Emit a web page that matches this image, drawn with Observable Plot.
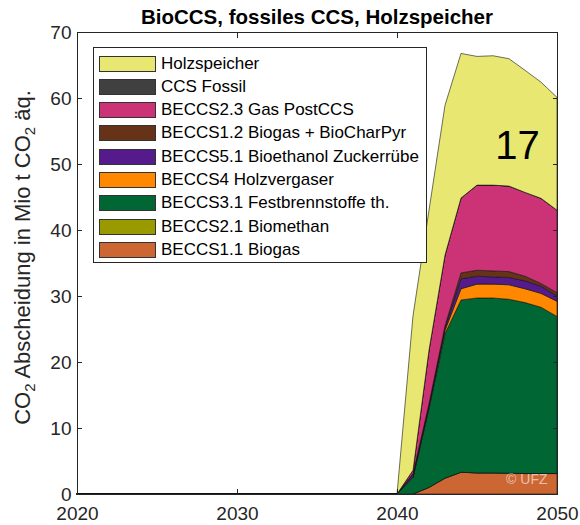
<!DOCTYPE html>
<html><head><meta charset="utf-8">
<script src="https://cdn.jsdelivr.net/npm/d3@7"></script>
<script src="https://cdn.jsdelivr.net/npm/@observablehq/plot@0.6"></script>
<style>
body{margin:0;background:#fff;font-family:"Liberation Sans",Arial,sans-serif;}
#wrap{position:relative;width:580px;height:525px;}
#title{position:absolute;left:77px;width:480px;top:5px;text-align:center;font-weight:bold;font-size:20.5px;line-height:24px;color:#000;z-index:2;}
#legend{position:absolute;left:93px;top:47px;width:334px;height:216px;border:1px solid #262626;background:#fff;box-sizing:border-box;z-index:2;}
.row{position:absolute;left:5px;height:23px;display:flex;align-items:center;font-size:17px;color:#000;white-space:nowrap;}
.sw{width:57px;height:16px;border:1px solid #333;box-sizing:border-box;margin-right:5px;}
</style>
</head><body>
<div id="wrap">
<div id="title">BioCCS, fossiles CCS, Holzspeicher</div>
<div id="legend"></div>
</div>
<script>
// Years
const years = [2020, 2025, 2030, 2035, 2040, 2041, 2042, 2043, 2044, 2045, 2046, 2047, 2048, 2049, 2050];
// Series (stack order bottom -> top)
const seriesNames = [
  "BECCS1.1 Biogas",
  "BECCS2.1 Biomethan",
  "BECCS3.1 Festbrennstoffe th.",
  "BECCS4 Holzvergaser",
  "BECCS5.1 Bioethanol Zuckerrübe",
  "BECCS1.2 Biogas + BioCharPyr",
  "BECCS2.3 Gas PostCCS",
  "CCS Fossil",
  "Holzspeicher"
];
const seriesColors = ["#CC6633", "#999900", "#006633", "#FF8800", "#551A8B", "#663319", "#CC3377", "#404040", "#E8E771"];
// Values in Mio t CO2 eq.
const beccs11Biogas      = [0, 0, 0, 0, 0, 0.0, 1.0, 2.4, 3.3, 3.2, 3.2, 3.15, 3.1, 3.1, 3.1];
const beccs21Biomethan   = [0, 0, 0, 0, 0, 0.0, 0.0, 0.0, 0.0, 0.0, 0.0, 0.0, 0.0, 0.0, 0.0];
const beccs31Festbrenn   = [0, 0, 0, 0, 0, 2.5, 12.0, 21.9, 26.1, 26.5, 26.5, 26.35, 25.9, 25.2, 23.8];
const beccs4Holzverg     = [0, 0, 0, 0, 0, 0.1, 0.2, 0.5, 1.7, 2.1, 2.1, 2.2, 2.1, 2.1, 2.3];
const beccs51Bioethanol  = [0, 0, 0, 0, 0, 0.4, 0.3, 0.4, 1.5, 1.2, 1.1, 1.1, 1.2, 1.1, 0.8];
const beccs12BioChar     = [0, 0, 0, 0, 0, 0.1, 0.2, 0.3, 0.9, 0.9, 0.9, 0.9, 0.7, 0.4, 0.5];
const beccs23GasPost     = [0, 0, 0, 0, 0, 0.5, 8.1, 10.7, 11.35, 12.9, 13.0, 12.95, 12.7, 12.9, 12.5];
const ccsFossil          = [0, 0, 0, 0, 0, 0.0, 0.0, 0.0, 0.0, 0.0, 0.0, 0.0, 0.0, 0.0, 0.0];
const holzspeicher       = [0, 0, 0, 0, 0, 23.4, 21.2, 22.7, 21.9, 19.5, 19.6, 19.3, 18.5, 17.6, 17.1];
// Axis ticks
const xTicks = [2020, 2030, 2040, 2050];
const yTicks = [0, 10, 20, 30, 40, 50, 60, 70];
const titleText = "BioCCS, fossiles CCS, Holzspeicher";
const yLabelParts = [["CO", false], ["2", true], [" Abscheidung in Mio t CO", false], ["2", true], [" äq.", false]];
const yLabel = yLabelParts.map(d => d[0]).join("");
const scenarioLabel = ["17"];
const watermark = ["© UFZ"];

const seriesValues = [beccs11Biogas, beccs21Biomethan, beccs31Festbrenn, beccs4Holzverg, beccs51Bioethanol, beccs12BioChar, beccs23GasPost, ccsFossil, holzspeicher];
const table = seriesNames.flatMap((s, i) => years.map((yr, j) => ({year: yr, series: s, value: seriesValues[i][j]})));

const ink = "#262626";
const plot = Plot.plot({
  width: 580, height: 525,
  marginLeft: 77, marginRight: 23, marginTop: 32, marginBottom: 31,
  style: {fontFamily: "'Liberation Sans', Arial, sans-serif", background: "transparent", color: ink, overflow: "visible"},
  x: {domain: [2020, 2050]},
  y: {domain: [0, 70]},
  color: {domain: seriesNames, range: seriesColors},
  marks: [
    Plot.areaY(table, Plot.stackY({order: seriesNames}, {x: "year", y: "value", fill: "series", stroke: "#111", strokeWidth: 0.6})),
    Plot.frame({stroke: ink, strokeWidth: 1}),
    Plot.axisX({ticks: xTicks, tickSize: 0, tickPadding: 12, tickFormat: "d", fontSize: 19, label: null, color: ink}),
    Plot.axisX({anchor: "bottom", ticks: xTicks, tickSize: -5, fill: "none", stroke: ink, label: null}),
    Plot.axisX({anchor: "top", ticks: xTicks, tickSize: -5, fill: "none", stroke: ink, label: null}),
    Plot.axisY({ticks: yTicks, tickSize: 0, tickPadding: 6, fontSize: 19, label: null, color: ink}),
    Plot.axisY({anchor: "left", ticks: yTicks, tickSize: -5, fill: "none", stroke: ink, label: null}),
    Plot.axisY({anchor: "right", ticks: yTicks, tickSize: -5, fill: "none", stroke: ink, label: null}),
    Plot.text([yLabel], {frameAnchor: "left", rotate: -90, dx: -55, dy: -6, textAnchor: "middle", lineAnchor: "middle", fontSize: 22, fill: ink}),
    Plot.text(scenarioLabel, {frameAnchor: "top-right", dx: -40, dy: 98, textAnchor: "middle", lineAnchor: "top", fontSize: 40, fill: "#000"}),
    Plot.text(watermark, {frameAnchor: "bottom-right", dx: -10, dy: -11, textAnchor: "end", fontSize: 14, fill: "#fff", fillOpacity: 0.6})
  ]
});
document.getElementById("wrap").prepend(plot);

// Real subscripts in the y label
d3.select(plot).selectAll("text").filter(function() { return this.textContent === yLabel; }).each(function() {
  const t = d3.select(this);
  t.text(null);
  let shifted = false;
  yLabelParts.forEach(([s, sub]) => {
    const ts = t.append("tspan").text(s);
    if (sub) { ts.attr("font-size", "15px").attr("dy", 5); shifted = true; }
    else if (shifted) { ts.attr("dy", -5); shifted = false; }
  });
});

// Legend (top of stack first)
const legend = document.getElementById("legend");
const order = seriesNames.map((s, i) => ({name: s, color: seriesColors[i]})).reverse();
order.forEach((d, i) => {
  const row = document.createElement("div");
  row.className = "row";
  row.style.top = (4 + i * 23.3) + "px";
  const sw = document.createElement("div");
  sw.className = "sw";
  sw.style.background = d.color;
  const t = document.createElement("span");
  t.textContent = d.name;
  row.appendChild(sw); row.appendChild(t);
  legend.appendChild(row);
});
</script>
</body></html>
